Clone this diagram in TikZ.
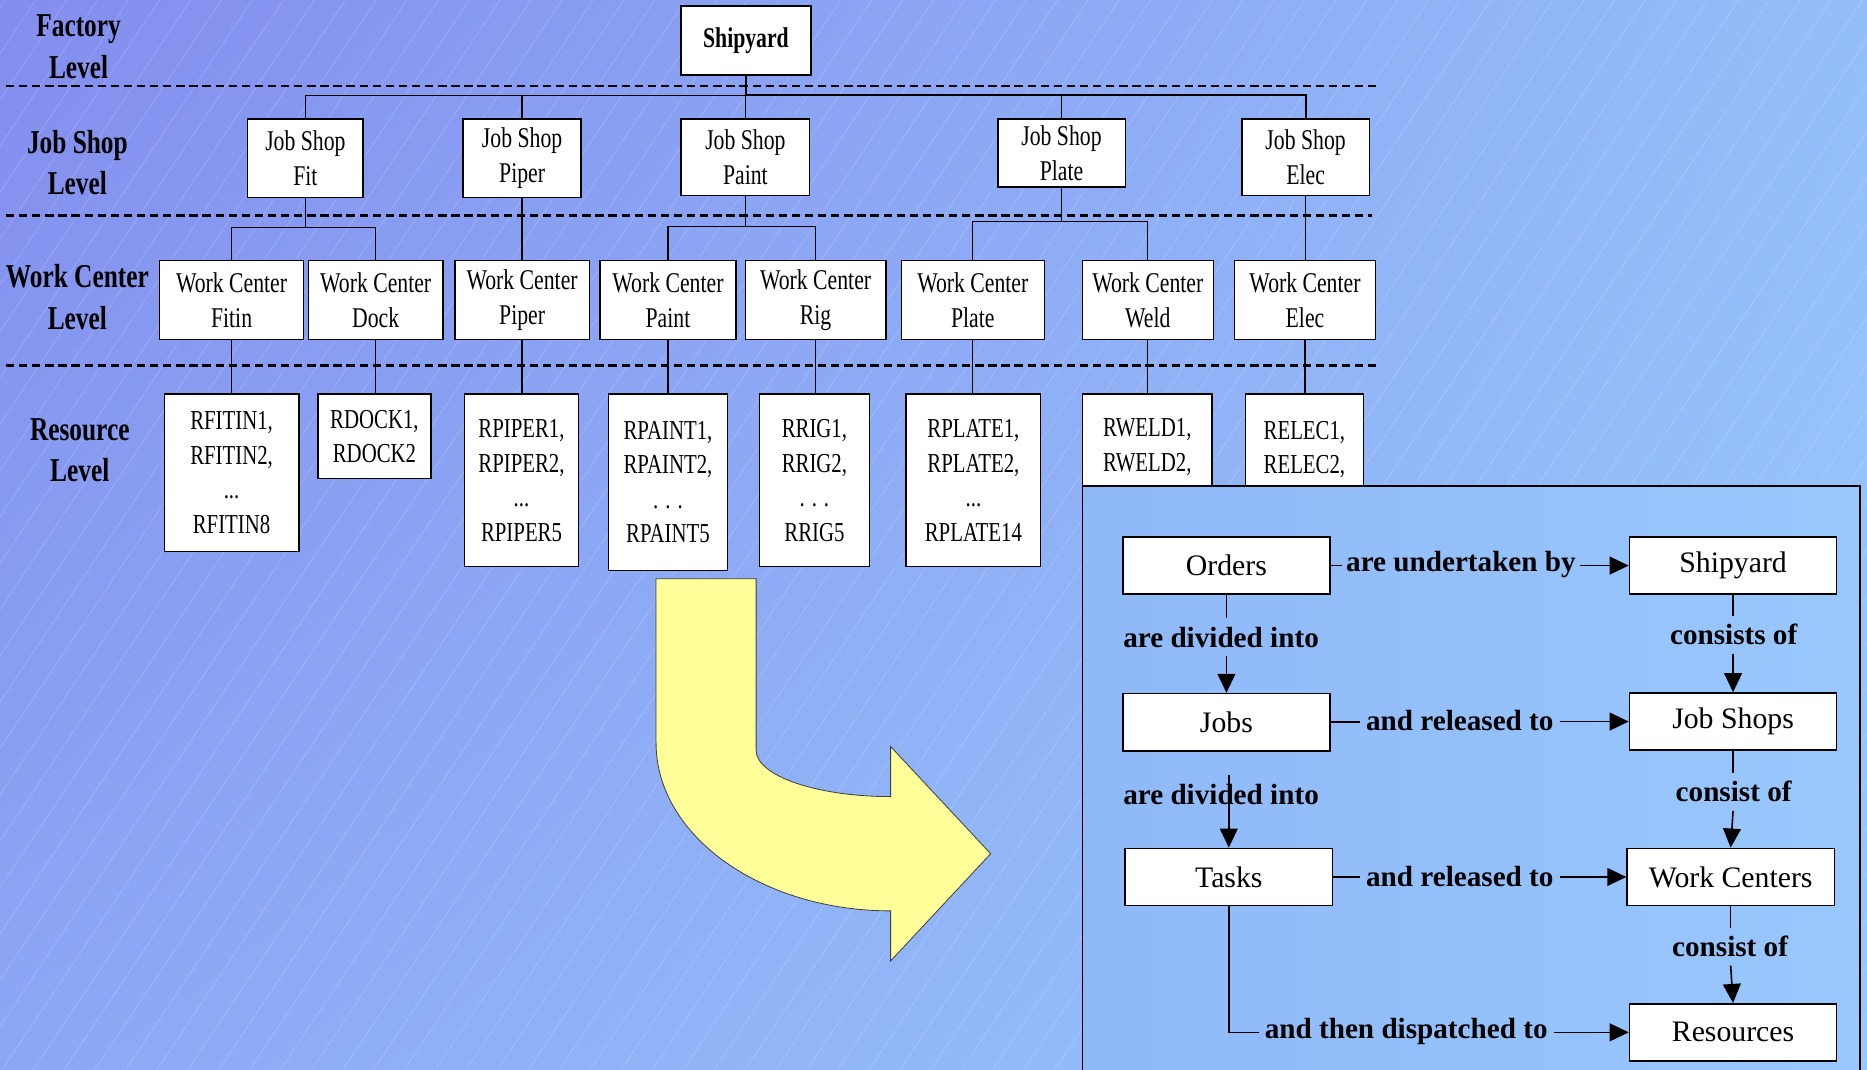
\documentclass[tikz,border=0pt]{standalone}
\usepackage{fontspec}
\setmainfont{Liberation Serif}
\newfontfamily\condf[FakeStretch=0.76]{Liberation Serif}
\usetikzlibrary{arrows.meta,calc,shadings}
\definecolor{bgUL}{RGB}{131,141,238}
\definecolor{bgUR}{RGB}{148,190,249}
\definecolor{bgLL}{RGB}{140,168,244}
\definecolor{bgLR}{RGB}{153,200,252}
\definecolor{pnlL}{RGB}{143,184,248}
\definecolor{pnlR}{RGB}{153,200,252}
\definecolor{arrowyellow}{RGB}{255,255,153}
\tikzset{
  topbox/.style={draw=black, fill=white, line width=1.2pt, inner sep=0pt, align=center,
    font=\condf\fontsize{24}{29}\selectfont},
  resbox/.style={topbox, font=\condf\fontsize{23}{29}\selectfont},
  lvl/.style={align=center, inner sep=0pt, font=\condf\bfseries\fontsize{28}{35}\selectfont},
  conn/.style={draw=black, line width=1.1pt},
  sepline/.style={draw=black, line width=2pt, dash pattern=on 7pt off 4pt},
  hatch/.style={draw=white, opacity=0.2, line width=0.5pt},
  pbox/.style={draw=black, fill=white, line width=1.3pt, minimum width=174pt, minimum height=48pt,
    inner sep=0pt, font=\fontsize{25}{30}\selectfont},
  plab/.style={font=\bfseries\fontsize{24.5}{30}\selectfont, inner xsep=5pt, inner ysep=7pt},
  parr/.style={draw=black, line width=1.3pt, -{Triangle[length=16pt,width=15pt]}},
  pline/.style={draw=black, line width=1.3pt},
}
\begin{document}
\begin{tikzpicture}[x=1pt,y=-1pt]
\useasboundingbox (0,0) rectangle (1568,898);
\shade[upper left=bgUL, upper right=bgUR, lower left=bgLL, lower right=bgLR] (0,0) rectangle (1568,898);
\begin{scope}
  \clip (0,0) rectangle (1568,898);
  \foreach \i in {-700,-674,...,1568} \draw[hatch] (\i,898) -- (\i+600,0);
\end{scope}

% separators
\draw[sepline] (5,72) -- (1157,72);
\draw[sepline] (5,181) -- (1152,181);
\draw[sepline] (5,307) -- (1158,307);

% level labels
\node[lvl] (lvf) at (66,39.5) {Factory\\Level};
\node[lvl] (lvj) at (65,136.5) {Job Shop\\Level};
\node[lvl] (lvw) at (65,249.5) {Work Center\\Level};
\node[lvl] (lvr) at (67,378) {Resource\\Level};

% factory
\node[topbox, line width=1.5pt, minimum width=109pt, minimum height=58pt, font=\condf\bfseries\fontsize{24}{29}\selectfont] (ship) at (626.5,34) {Shipyard};

% job shops
\node[topbox, minimum width=97pt, minimum height=66pt] (jsfit) at (256.5,133) {Job Shop\\Fit};
\node[topbox, minimum width=99pt, minimum height=66pt] (jspiper) at (438.5,133) {Job Shop\\Piper};
\node[topbox, minimum width=108pt, minimum height=64pt] (jspaint) at (626,132) {Job Shop\\Paint};
\node[topbox, minimum width=107pt, minimum height=57pt] (jsplate) at (891.5,128.5) {Job Shop\\Plate};
\node[topbox, minimum width=107pt, minimum height=64pt] (jselec) at (1096.5,132) {Job Shop\\Elec};

% work centers
\node[topbox, minimum width=121pt, minimum height=66pt] (wcfitin) at (194.5,252) {Work Center\\Fitin};
\node[topbox, minimum width=113pt, minimum height=66pt] (wcdock) at (315.5,252) {Work Center\\Dock};
\node[topbox, minimum width=113pt, minimum height=66pt] (wcpiper) at (438.5,252) {Work Center\\Piper};
\node[topbox, minimum width=114pt, minimum height=66pt] (wcpaint) at (561,252) {Work Center\\Paint};
\node[topbox, minimum width=118pt, minimum height=66pt] (wcrig) at (685,252) {Work Center\\Rig};
\node[topbox, minimum width=120pt, minimum height=66pt] (wcplate) at (817,252) {Work Center\\Plate};
\node[topbox, minimum width=110pt, minimum height=66pt] (wcweld) at (964,252) {Work Center\\Weld};
\node[topbox, minimum width=118pt, minimum height=66pt] (wcelec) at (1096,252) {Work Center\\Elec};

% resources
\node[resbox, minimum width=113pt, minimum height=132pt] (rfitin) at (194.5,397) {RFITIN1,\\RFITIN2,\\...\\RFITIN8};
\node[resbox, minimum width=95pt, minimum height=71pt] (rdock) at (314.5,366.5) {RDOCK1,\\RDOCK2};
\node[resbox, minimum width=96pt, minimum height=145pt] (rpiper) at (438,403.5) {RPIPER1,\\RPIPER2,\\...\\RPIPER5};
\node[resbox, minimum width=100pt, minimum height=148pt] (rpaint) at (561,405) {RPAINT1,\\RPAINT2,\\. . .\\RPAINT5};
\node[resbox, minimum width=92pt, minimum height=145pt] (rrig) at (684,403.5) {RRIG1,\\RRIG2,\\. . .\\RRIG5};
\node[resbox, minimum width=113pt, minimum height=145pt] (rplate) at (817.5,403.5) {RPLATE1,\\RPLATE2,\\...\\RPLATE14};
\node[resbox, minimum width=109pt, minimum height=89pt] (rweld) at (963.5,375.5) {RWELD1,\\RWELD2,};
\node[resbox, minimum width=99pt, minimum height=93pt] (relec) at (1095.5,377.5) {RELEC1,\\RELEC2,};

% hierarchy connectors
\coordinate (bus) at (626.5,80);
\draw[conn] (ship.south) -- (bus);
\draw[conn] (jsfit.north) |- (bus);
\draw[conn, line width=1.8pt] (bus) -| (jselec.north);
\draw[conn] (jspiper.north) -- (jspiper.north |- bus);
\draw[conn] (jspaint.north) -- (jspaint.north |- bus);
\draw[conn] (jsplate.north) -- (jsplate.north |- bus);

\coordinate (b1) at (256.5,191);
\draw[conn] (jsfit.south) -- (b1);
\draw[conn] (wcfitin.north) |- (b1) -| (wcdock.north);
\draw[conn] (jspiper.south) -- (jspiper.south |- wcpiper.north);
\coordinate (b2) at (626,190);
\draw[conn] (jspaint.south) -- (b2);
\draw[conn] (wcpaint.north) |- (b2) -| (wcrig.north);
\coordinate (b3) at (891.5,186);
\draw[conn] (jsplate.south) -- (b3);
\draw[conn] (wcplate.north) |- (b3) -| (wcweld.north);
\draw[conn] (jselec.south) -- (jselec.south |- wcelec.north);

\foreach \a/\b in {wcfitin/rfitin, wcdock/rdock, wcpiper/rpiper, wcpaint/rpaint, wcrig/rrig, wcplate/rplate, wcweld/rweld, wcelec/relec}
  \draw[conn] (\a.south) -- (\a.south |- \b.north);

% yellow arrow
\draw[fill=arrowyellow, draw=black!75, line width=0.7pt]
  (551,486) -- (635,486) -- (635,630)
  .. controls (635,651.5) and (685.6,669) .. (748,669)
  -- (748,627) -- (832,717) -- (748,807) -- (748,765)
  .. controls (639.3,765) and (551,701.8) .. (551,624) -- cycle;

% panel
\shade[left color=pnlL, right color=pnlR] (909,408) rectangle (1562,905);
\draw[line width=1.3pt] (909,905) -- (909,408) -- (1562,408) -- (1562,905);

\node[pbox] (orders) at (1030,475) {Orders};
\node[pbox] (pship) at (1455.5,475) {Shipyard};
\node[pbox] (jobs) at (1030,606.5) {Jobs};
\node[pbox] (jshops) at (1455.5,606) {Job Shops};
\node[pbox] (tasks) at (1032,736.5) {Tasks};
\node[pbox] (wcs) at (1453.5,736.5) {Work Centers};
\node[pbox] (res) at (1455.5,867) {Resources};

\node[plab, inner xsep=3pt] (l1) at (1227,474) {are undertaken by};
\node[plab] (l2) at (1025.5,535) {are divided into};
\node[plab] (l3) at (1456,533) {consists of};
\node[plab] (l4) at (1226,605) {and released to};
\node[plab] (l5) at (1025.5,667) {are divided into};
\node[plab] (l6) at (1456,665) {consist of};
\node[plab] (l7) at (1226,736) {and released to};
\node[plab] (l8) at (1453,795) {consist of};
\node[plab] (l9) at (1181,866) {and then dispatched to};

\draw[pline] (orders.east) -- (orders.east -| l1.west);
\draw[parr] (l1.east |- pship.west) -- (pship.west);
\draw[pline] (orders.south) -- (orders.south |- l2.north);
\draw[parr] (orders.south |- l2.south) -- (jobs.north);
\draw[pline] (pship.south) -- (pship.south |- l3.north);
\draw[parr] (pship.south |- l3.south) -- (jshops.north);
\draw[pline] (jobs.east) -- (jobs.east -| l4.west);
\draw[parr] (l4.east |- jshops.west) -- (jshops.west);
\draw[parr] (tasks.north |- l5.north) -- (tasks.north);
\draw[pline] (jshops.south) -- (jshops.south |- l6.north);
\draw[parr] (jshops.south |- l6.south) -- (wcs.north);
\draw[pline] (tasks.east) -- (tasks.east -| l7.west);
\draw[parr] (l7.east |- wcs.west) -- (wcs.west);
\draw[pline] (wcs.south) -- (wcs.south |- l8.north);
\draw[parr] (wcs.south |- l8.south) -- (res.north);
\draw[pline] (tasks.south) |- (l9.west |- res.west);
\draw[parr] (l9.east |- res.west) -- (res.west);
\end{tikzpicture}
\end{document}
